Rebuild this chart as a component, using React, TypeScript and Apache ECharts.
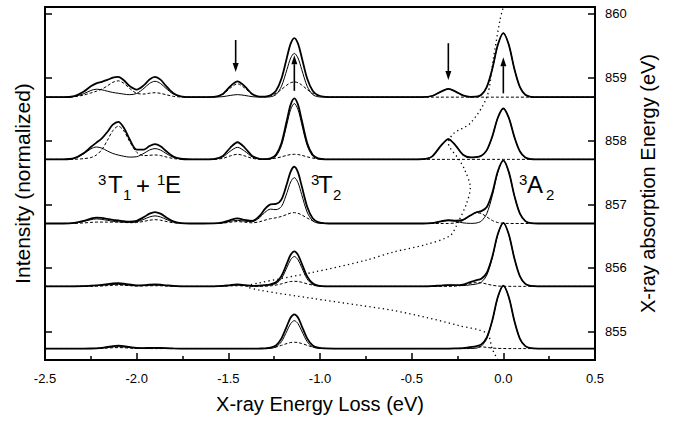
import React, { useEffect, useRef } from "react";
import * as echarts from "echarts";

const FONT = '"Liberation Sans", Arial, Helvetica, sans-serif';

// Energy-loss grid (eV) shared by all RIXS spectra
const energyLoss = [
  -2.5, -2.4, -2.34, -2.29, -2.25, -2.22, -2.19, -2.16, -2.13, -2.1, -2.07, -2.04, -2.0, -1.96, -1.93, -1.9, -1.87, -1.84, -1.8, -1.76, -1.71, -1.64,
  -1.58, -1.53, -1.49, -1.45, -1.41, -1.37, -1.33, -1.3, -1.27, -1.24, -1.21, -1.18, -1.16, -1.14, -1.12, -1.1, -1.07, -1.04, -1.01, -0.97, -0.92,
  -0.5, -0.44, -0.39, -0.34, -0.3, -0.26, -0.22, -0.18, -0.15, -0.12, -0.09, -0.06, -0.03, 0, 0.03, 0.06, 0.09, 0.12, 0.15, 0.19,
  0.5,
];

// Baseline of each spectrum on the absorption-energy axis (eV), bottom to top
const panelBaselines = [854.73, 855.71, 856.7, 857.71, 858.69];

// Thin solid component (intensity above baseline)
const thinP1 = [
  0, 0, 0, 0, 0.001, 0.003, 0.008, 0.017, 0.026, 0.03, 0.026, 0.017, 0.008, 0.007, 0.009, 0.01, 0.009, 0.006, 0.002, 0, 0, 0,
  0, 0, 0, 0, 0, 0, 0, 0, 0.004, 0.026, 0.11, 0.279, 0.393, 0.44, 0.393, 0.279, 0.11, 0.026, 0.004, 0, 0,
  0, 0, 0, 0, 0, 0, 0, 0.001, 0.006, 0.038, 0.158, 0.439, 0.808, 0.99, 0.808, 0.439, 0.158, 0.038, 0.006, 0,
  0,
];
const thinP2 = [
  0, 0, 0.001, 0.004, 0.01, 0.013, 0.017, 0.023, 0.029, 0.031, 0.026, 0.018, 0.01, 0.012, 0.017, 0.02, 0.017, 0.011, 0.004, 0.001, 0, 0,
  0, 0.004, 0.013, 0.02, 0.013, 0.006, 0.009, 0.016, 0.024, 0.044, 0.125, 0.301, 0.421, 0.47, 0.42, 0.298, 0.117, 0.028, 0.004, 0, 0,
  0, 0, 0.003, 0.013, 0.02, 0.015, 0.012, 0.024, 0.035, 0.066, 0.178, 0.451, 0.819, 1.0, 0.816, 0.443, 0.16, 0.038, 0.006, 0,
  0,
];
const thinP3 = [
  0, 0, 0.007, 0.031, 0.06, 0.072, 0.065, 0.05, 0.035, 0.027, 0.02, 0.016, 0.027, 0.067, 0.103, 0.12, 0.103, 0.066, 0.023, 0.005, 0, 0,
  0.001, 0.01, 0.034, 0.05, 0.036, 0.029, 0.091, 0.177, 0.226, 0.218, 0.269, 0.487, 0.654, 0.723, 0.644, 0.457, 0.179, 0.042, 0.006, 0, 0,
  0, 0, 0.007, 0.034, 0.05, 0.034, 0.01, 0.002, 0.006, 0.038, 0.158, 0.439, 0.808, 0.99, 0.808, 0.439, 0.158, 0.038, 0.006, 0,
  0,
];
const thinP4 = [
  0, 0.001, 0.018, 0.085, 0.165, 0.195, 0.177, 0.133, 0.093, 0.068, 0.049, 0.036, 0.042, 0.096, 0.147, 0.17, 0.147, 0.094, 0.032, 0.007, 0.001, 0,
  0.003, 0.039, 0.128, 0.19, 0.128, 0.039, 0.006, 0.001, 0.007, 0.052, 0.219, 0.559, 0.786, 0.88, 0.786, 0.559, 0.219, 0.052, 0.007, 0, 0,
  0, 0.003, 0.043, 0.216, 0.32, 0.218, 0.074, 0.032, 0.035, 0.058, 0.146, 0.362, 0.656, 0.801, 0.653, 0.354, 0.128, 0.03, 0.005, 0,
  0,
];
const thinP5 = [
  0, 0, 0.011, 0.053, 0.105, 0.125, 0.116, 0.094, 0.074, 0.061, 0.048, 0.039, 0.058, 0.14, 0.216, 0.25, 0.216, 0.138, 0.048, 0.01, 0.001, 0,
  0.001, 0.008, 0.027, 0.04, 0.027, 0.008, 0.001, 0.001, 0.006, 0.041, 0.172, 0.438, 0.616, 0.69, 0.616, 0.438, 0.172, 0.041, 0.006, 0, 0,
  0, 0.001, 0.018, 0.088, 0.13, 0.088, 0.027, 0.005, 0.007, 0.038, 0.162, 0.447, 0.824, 1.01, 0.824, 0.447, 0.162, 0.038, 0.006, 0,
  0,
];

// Dashed component (intensity above baseline)
const dashP1 = [
  0, 0, 0, 0, 0, 0.001, 0.004, 0.008, 0.013, 0.015, 0.013, 0.008, 0.003, 0.001, 0, 0, 0, 0, 0, 0, 0, 0,
  0, 0, 0, 0, 0, 0, 0.001, 0.003, 0.01, 0.025, 0.051, 0.08, 0.095, 0.1, 0.095, 0.08, 0.051, 0.025, 0.01, 0.002, 0,
  0, 0, 0, 0, 0, 0.002, 0.008, 0.022, 0.029, 0.028, 0.018, 0.008, 0.003, 0.001, 0, 0, 0, 0, 0, 0,
  0,
];
const dashP2 = [
  0, 0, 0, 0, 0, 0.002, 0.005, 0.011, 0.017, 0.02, 0.017, 0.011, 0.006, 0.007, 0.009, 0.01, 0.009, 0.006, 0.002, 0, 0, 0,
  0, 0.002, 0.007, 0.01, 0.007, 0.002, 0.001, 0.002, 0.008, 0.02, 0.04, 0.064, 0.076, 0.08, 0.076, 0.064, 0.04, 0.02, 0.008, 0.001, 0,
  0, 0, 0, 0, 0, 0.003, 0.017, 0.044, 0.059, 0.055, 0.036, 0.017, 0.005, 0.001, 0, 0, 0, 0, 0, 0,
  0,
];
const dashP3 = [
  0, 0, 0.002, 0.009, 0.017, 0.022, 0.022, 0.022, 0.022, 0.022, 0.017, 0.013, 0.015, 0.034, 0.052, 0.06, 0.052, 0.033, 0.011, 0.002, 0, 0,
  0, 0.006, 0.02, 0.03, 0.02, 0.011, 0.027, 0.053, 0.076, 0.09, 0.111, 0.144, 0.164, 0.171, 0.161, 0.136, 0.086, 0.042, 0.016, 0.003, 0,
  0, 0, 0, 0, 0.001, 0.01, 0.047, 0.123, 0.167, 0.157, 0.103, 0.047, 0.015, 0.003, 0.001, 0, 0, 0, 0, 0,
  0,
];
const dashP4 = [
  0, 0, 0.002, 0.011, 0.029, 0.068, 0.153, 0.298, 0.453, 0.522, 0.449, 0.29, 0.112, 0.059, 0.064, 0.07, 0.06, 0.039, 0.013, 0.003, 0, 0,
  0.001, 0.016, 0.054, 0.08, 0.054, 0.016, 0.003, 0.002, 0.008, 0.02, 0.04, 0.064, 0.076, 0.08, 0.076, 0.064, 0.04, 0.02, 0.008, 0.001, 0,
  0, 0, 0, 0, 0, 0, 0, 0, 0, 0, 0, 0, 0, 0, 0, 0, 0, 0, 0, 0,
  0,
];
const dashP5 = [
  0, 0, 0.007, 0.032, 0.066, 0.093, 0.126, 0.177, 0.234, 0.257, 0.219, 0.141, 0.061, 0.049, 0.062, 0.07, 0.06, 0.039, 0.013, 0.003, 0, 0,
  0.003, 0.043, 0.142, 0.21, 0.142, 0.043, 0.008, 0.008, 0.023, 0.06, 0.121, 0.192, 0.227, 0.24, 0.227, 0.192, 0.121, 0.06, 0.023, 0.004, 0,
  0, 0, 0, 0, 0, 0, 0, 0, 0, 0, 0, 0, 0, 0, 0, 0, 0, 0, 0, 0,
  0,
];

const thinPanels = [thinP1, thinP2, thinP3, thinP4, thinP5];
const dashPanels = [dashP1, dashP2, dashP3, dashP4, dashP5];

// Dotted absorption spectrum (drawn sideways)
const absorptionLoss = [
  -0.03, -0.06, -0.09, -0.24, -0.42, -0.6, -0.78, -1.04, -1.33, -1.4, -1.34, -1.04, -0.75, -0.6, -0.42, -0.29, -0.25, -0.2, -0.18, -0.21,
  -0.24, -0.3, -0.27, -0.18, -0.09, -0.056, -0.018, 0.0,
];
const absorptionEnergy = [
  854.55, 854.72, 854.97, 855.09, 855.22, 855.33, 855.41, 855.52, 855.65, 855.71, 855.76, 855.93, 856.12, 856.25, 856.37, 856.51, 856.7, 857.02, 857.27, 857.54,
  857.7, 857.97, 858.12, 858.28, 858.69, 859.27, 859.91, 860.11,
];

const energyTicks = [855, 856, 857, 858, 859, 860];

// Arrows: x position, tail and head on the energy axis
const arrowX = [-1.46, -1.14, -0.3, 0.0];
const arrowTail = [859.59, 858.79, 859.54, 858.75];
const arrowHead = [859.085, 859.35, 858.96, 859.32];

const Y_MIN = 854.55;
const Y_MAX = 860.11;

export default function App() {
  const ref = useRef<HTMLDivElement>(null);

  useEffect(() => {
    document.body.style.margin = "0";
    const chart = echarts.init(ref.current as HTMLDivElement, null, { renderer: "svg" });

    const toPairs = (ys: number[], base: number) => energyLoss.map((x, i) => [x, base + (ys[i] || 0)]);
    const lineBase = {
      type: "line" as const,
      xAxisIndex: 0,
      yAxisIndex: 1,
      showSymbol: false,
      symbol: "none",
      smooth: 0.3,
      silent: true,
    };

    const series: any[] = [];
    panelBaselines.forEach((base, p) => {
      const thin = thinPanels[p];
      const dash = dashPanels[p];
      const thick = thin.map((v, i) => v + (dash[i] || 0));
      series.push({ ...lineBase, data: toPairs(dash, base), lineStyle: { color: "#000", width: 1, type: [3, 2] } });
      series.push({ ...lineBase, data: toPairs(thin, base), lineStyle: { color: "#000", width: 1 } });
      series.push({ ...lineBase, data: toPairs(thick, base), lineStyle: { color: "#000", width: 1.8 } });
    });
    series.push({
      ...lineBase,
      smooth: 0.3,
      data: absorptionLoss.map((x, i) => [x, absorptionEnergy[i]]),
      lineStyle: { color: "#000", width: 1.3, type: [1.3, 3.2] },
    });

    const axisText = { color: "#000", fontFamily: FONT };

    chart.setOption({
      animation: false,
      backgroundColor: "#fff",
      grid: { left: 45, right: 78, top: 7, bottom: 62, show: true, borderColor: "#000", borderWidth: 2, backgroundColor: "transparent" },
      xAxis: {
        type: "value",
        min: -2.5,
        max: 0.5,
        interval: 0.5,
        axisLine: { show: true, onZero: false, lineStyle: { color: "#000", width: 2 } },
        axisTick: { show: true, inside: true, length: 7, lineStyle: { color: "#000", width: 1.5 } },
        minorTick: { show: true, splitNumber: 2, length: 4, lineStyle: { color: "#000", width: 1.5 } },
        axisLabel: { ...axisText, fontSize: 13, margin: 12, formatter: (v: number) => v.toFixed(1) },
        splitLine: { show: false },
        name: "X-ray Energy Loss (eV)",
        nameLocation: "middle",
        nameGap: 34,
        nameTextStyle: { ...axisText, fontSize: 20 },
      },
      yAxis: [
        {
          type: "value",
          position: "left",
          min: Y_MIN,
          max: Y_MAX,
          axisLine: { show: true, onZero: false, lineStyle: { color: "#000", width: 2 } },
          axisTick: { show: true, inside: true, length: 7, customValues: energyTicks, lineStyle: { color: "#000", width: 1.5 } },
          axisLabel: { show: false },
          splitLine: { show: false },
          name: "Intensity (normalized)",
          nameLocation: "middle",
          nameRotate: 90,
          nameGap: 12,
          nameTextStyle: { ...axisText, fontSize: 21 },
        },
        {
          type: "value",
          position: "right",
          min: Y_MIN,
          max: Y_MAX,
          axisLine: { show: true, onZero: false, lineStyle: { color: "#000", width: 2 } },
          axisTick: { show: true, inside: true, length: 7, customValues: energyTicks, lineStyle: { color: "#000", width: 1.5 } },
          axisLabel: { ...axisText, fontSize: 13, margin: 10, customValues: energyTicks, formatter: (v: number) => String(Math.round(v)) },
          splitLine: { show: false },
          name: "X-ray absorption Energy (eV)",
          nameLocation: "middle",
          nameRotate: 90,
          nameGap: 31,
          nameTextStyle: { ...axisText, fontSize: 20 },
        },
      ],
      series,
    });

    const toPx = (x: number, y: number) =>
      chart.convertToPixel({ xAxisIndex: 0, yAxisIndex: 1 }, [x, y]) as number[];

    const graphics: any[] = [];
    arrowX.forEach((x, i) => {
      const tail = toPx(x, arrowTail[i]);
      const head = toPx(x, arrowHead[i]);
      const dir = head[1] > tail[1] ? 1 : -1; // +1 pointing down
      const headLen = 9;
      const halfW = 3;
      graphics.push({
        type: "line",
        silent: true,
        shape: { x1: tail[0], y1: tail[1], x2: head[0], y2: head[1] - dir * headLen },
        style: { stroke: "#000", lineWidth: 1.6 },
      });
      graphics.push({
        type: "polygon",
        silent: true,
        shape: {
          points: [
            [head[0], head[1]],
            [head[0] - halfW, head[1] - dir * headLen],
            [head[0] + halfW, head[1] - dir * headLen],
          ],
        },
        style: { fill: "#000" },
      });
    });

    const label = (text: string, x: number, y: number, size: number) => ({
      type: "text",
      silent: true,
      x,
      y,
      style: { text, fontSize: size, fontFamily: FONT, fill: "#000", align: "left", verticalAlign: "middle" },
    });
    graphics.push(
      label("3", 98, 179, 15),
      label("T", 108, 184, 24),
      label("1", 123, 194, 15),
      label("+", 136, 185, 24),
      label("1", 157, 179, 15),
      label("E", 165, 184, 24),
      label("3", 311, 179, 15),
      label("T", 318, 184, 24),
      label("2", 333, 194, 15),
      label("3", 519, 179, 15),
      label("A", 527, 184, 24),
      label("2", 546, 194, 15)
    );

    chart.setOption({ graphic: graphics });

    return () => {
      chart.dispose();
    };
  }, []);

  return <div ref={ref} style={{ width: 673, height: 422 }} />;
}
